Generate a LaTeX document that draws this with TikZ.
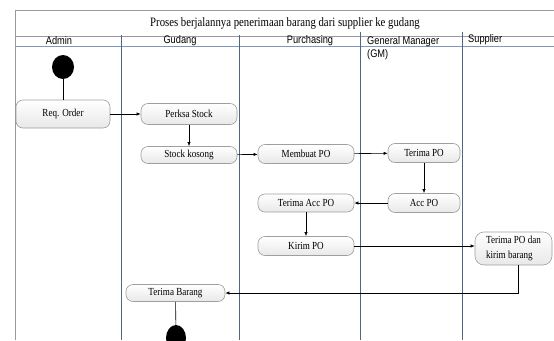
\documentclass[tikz,border=0pt]{standalone}
\usepackage{fontspec}
\setmainfont{Liberation Serif}[FakeStretch=0.84]
\newfontfamily\lanefont{Liberation Sans}[FakeStretch=0.84]
\usetikzlibrary{arrows.meta,shapes.geometric}
\definecolor{laneblue}{HTML}{4E6786}
\definecolor{headblue}{HTML}{7F9AB8}
\definecolor{framegray}{HTML}{9A9A9A}
\begin{document}
\begin{tikzpicture}[x=1pt,y=-1pt,
  act/.style={draw=gray!75, rounded corners=7pt, top color=white, bottom color=gray!18,
    inner sep=0pt, font=\fontsize{10.8}{12}\selectfont, line width=0.6pt},
  flow/.style={-{Latex[length=4pt,width=3.2pt]}, line width=0.6pt},
  plain/.style={line width=0.6pt},
  lane/.style={laneblue, line width=0.6pt},
  hdr/.style={font=\lanefont\fontsize{11}{13}\selectfont, inner sep=0pt},
  dot/.style={ellipse, fill=black, inner sep=0pt}]
\useasboundingbox (0,0) rectangle (554,340);
\fill[white] (0,0) rectangle (554,340);

% frame and header rows
\draw[framegray, line width=0.6pt] (15,340) -- (15,10) -- (554,10);
\draw[framegray, line width=0.6pt] (15,36) -- (554,36);
\draw[headblue, line width=0.9pt] (15,46) -- (554,46);

% lane dividers
\draw[lane] (121,35) -- (121,340);
\draw[lane] (239,35) -- (239,340);
\draw[lane] (360,32) -- (360,340);
\draw[lane] (462,32) -- (462,340);

% title and lane names
\node[font=\fontsize{12.8}{14}\selectfont, inner sep=0pt] (title) at (285,23) {Proses berjalannya penerimaan barang dari supplier ke gudang};
\node[hdr] (hAdmin) at (59,40.5) {Admin};
\node[hdr] (hGudang) at (180,40.5) {Gudang};
\node[hdr] (hPurch) at (310,40.5) {Purchasing};
\node[hdr, anchor=north west, align=left] (hGM) at (367,36) {General Manager\\(GM)};
\node[hdr, anchor=west] (hSupp) at (468,39.5) {Supplier};

% start and end
\node[dot, minimum width=22pt, minimum height=24pt] (start) at (63,67) {};
\node[dot, minimum width=20pt, minimum height=26pt] (stop) at (176,338) {};

% activities
\node[act, minimum width=94pt, minimum height=28pt] (req) at (63,114) {Req. Order};
\node[act, minimum width=96pt, minimum height=21pt] (perk) at (189,114) {Perksa Stock};
\node[act, minimum width=96pt, minimum height=17pt] (stock) at (189,155) {Stock kosong};
\node[act, minimum width=96pt, minimum height=19pt] (buat) at (306,154) {Membuat PO};
\node[act, minimum width=72pt, minimum height=19pt] (tpo) at (424,153) {Terima PO};
\node[act, minimum width=72pt, minimum height=19pt] (acc) at (424,203) {Acc PO};
\node[act, minimum width=96pt, minimum height=18pt] (tacc) at (306,203) {Terima Acc PO};
\node[act, minimum width=96pt, minimum height=19pt] (kirim) at (306,246) {Kirim PO};
\node[act, minimum width=77pt, minimum height=33pt, align=left, rounded corners=9pt,
      font=\fontsize{10.8}{15}\selectfont] (supp) at (513.5,248.5) {Terima PO dan\\kirim barang};
\node[act, minimum width=99pt, minimum height=17pt] (barang) at (175.5,293) {Terima Barang};

% connectors
\draw[plain] (start) -- (req);
\draw[flow] (req) -- (perk);
\draw[flow] (perk) -- (stock);
\draw[flow] (stock) -- (buat);
\draw[flow] (buat) -- (tpo);
\draw[flow] (tpo) -- (acc);
\draw[flow] (acc) -- (tacc);
\draw[flow] (tacc) -- (kirim);
\draw[flow] (kirim) -- (kirim -| supp.west);
\draw[flow] ([xshift=4.5pt]supp.south) |- (barang.east);
\draw[plain] (barang) -- (stop);
\end{tikzpicture}
\end{document}
